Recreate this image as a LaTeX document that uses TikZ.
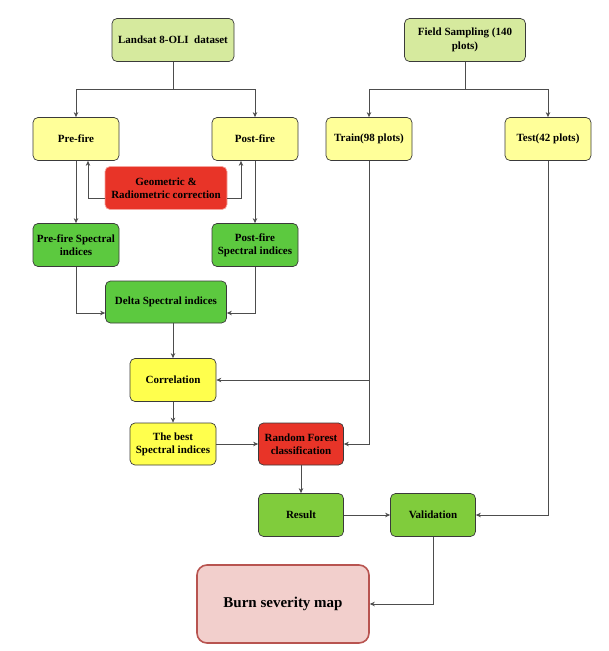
\documentclass[tikz,border=0pt]{standalone}
\usepackage{fontspec}
\setmainfont{Liberation Serif}
\usepackage{tikz}
\usetikzlibrary{arrows.meta}
\definecolor{olivelight}{HTML}{D6EA9E}
\definecolor{paleyellow}{HTML}{FFFF99}
\definecolor{brightyellow}{HTML}{FFFF4D}
\definecolor{firered}{HTML}{E83428}
\definecolor{grassgreen}{HTML}{5CC93F}
\definecolor{leafgreen}{HTML}{80CC3C}
\definecolor{mapfill}{HTML}{F2CFCC}
\definecolor{mapline}{HTML}{B85450}
\definecolor{boxline}{HTML}{3A3A3A}
\definecolor{linkgray}{HTML}{4D4D4D}
\tikzset{
    box/.style={draw=boxline, line width=0.7pt, rounded corners=5pt,
        minimum width=86pt, minimum height=43pt, inner sep=2pt, align=center,
        font=\fontsize{11}{13.3}\selectfont\bfseries},
    link/.style={draw=linkgray, line width=0.8pt, -{Stealth[length=5pt,width=4.5pt]}},
    line/.style={draw=linkgray, line width=0.8pt}
}

\begin{document}
\begin{tikzpicture}[x=1pt,y=-1pt]
\useasboundingbox (0,0) rectangle (609,651);
\node[box, fill=olivelight, minimum width=122pt] (LS) at (173,40) {Landsat 8-OLI~ dataset};
\node[box, fill=olivelight, minimum width=121pt] (FS) at (465,40) {Field Sampling (140\\ plots)};
\node[box, fill=paleyellow] (PRE) at (76,139) {Pre-fire};
\node[box, fill=paleyellow] (POST) at (255,139) {Post-fire};
\node[box, fill=paleyellow] (TR) at (369,139) {Train(98 plots)};
\node[box, fill=paleyellow] (TE) at (548,139) {Test(42 plots)};
\node[box, fill=firered, draw=firered!45, minimum width=122pt] (GEO) at (166,188) {Geometric \&\\ Radiometric correction};
\node[box, fill=grassgreen] (PRESP) at (76,245) {Pre-fire Spectral\\ indices};
\node[box, fill=grassgreen] (POSTSP) at (255,245) {Post-fire\\ Spectral indices};
\node[box, fill=grassgreen, minimum width=121pt, minimum height=42pt] (DSP) at (166,302) {Delta Spectral indices};
\node[box, fill=brightyellow] (COR) at (173,380) {Correlation};
\node[box, fill=brightyellow, minimum height=42pt] (BEST) at (173,444) {The best\\ Spectral indices};
\node[box, fill=firered, minimum width=85pt, minimum height=42pt] (RF) at (301,444) {Random Forest\\ classification};
\node[box, fill=leafgreen, minimum width=85pt] (RES) at (301,515) {Result};
\node[box, fill=leafgreen, minimum width=85pt] (VAL) at (433,515) {Validation};
\node[box, fill=mapfill, draw=mapline, line width=1.6pt, rounded corners=10pt,
      minimum width=172pt, minimum height=78pt, font=\fontsize{15}{18}\selectfont\bfseries] (MAP) at (283,604) {Burn severity map};

\coordinate (LSsplit) at (173,89);
\coordinate (FSsplit) at (465,89);
\draw[line] (LS) -- (LSsplit);
\draw[link] (LSsplit) -| (PRE);
\draw[link] (LSsplit) -| (POST);
\draw[line] (FS) -- (FSsplit);
\draw[link] (FSsplit) -| (TR);
\draw[link] (FSsplit) -| (TE);
\draw[link] ([yshift=-10.5pt]GEO.west) -| ([xshift=12pt]PRE.south);
\draw[link] ([yshift=-10.5pt]GEO.east) -| ([xshift=-14pt]POST.south);
\draw[link] (PRE) -- (PRESP);
\draw[link] (POST) -- (POSTSP);
\draw[link] (PRESP) |- ([yshift=-11pt]DSP.west);
\draw[link] (POSTSP) |- ([yshift=-11pt]DSP.east);
\draw[link] (DSP.south -| COR.north) -- (COR);
\draw[link] (TR.south |- COR) -- (COR);
\draw[link] (TR) |- (RF);
\draw[link] (COR) -- (BEST);
\draw[link] (BEST) -- (RF);
\draw[link] (RF) -- (RES);
\draw[link] (RES) -- (VAL);
\draw[link] (TE) |- (VAL);
\draw[link] (VAL) |- (MAP);
\end{tikzpicture}
\end{document}
